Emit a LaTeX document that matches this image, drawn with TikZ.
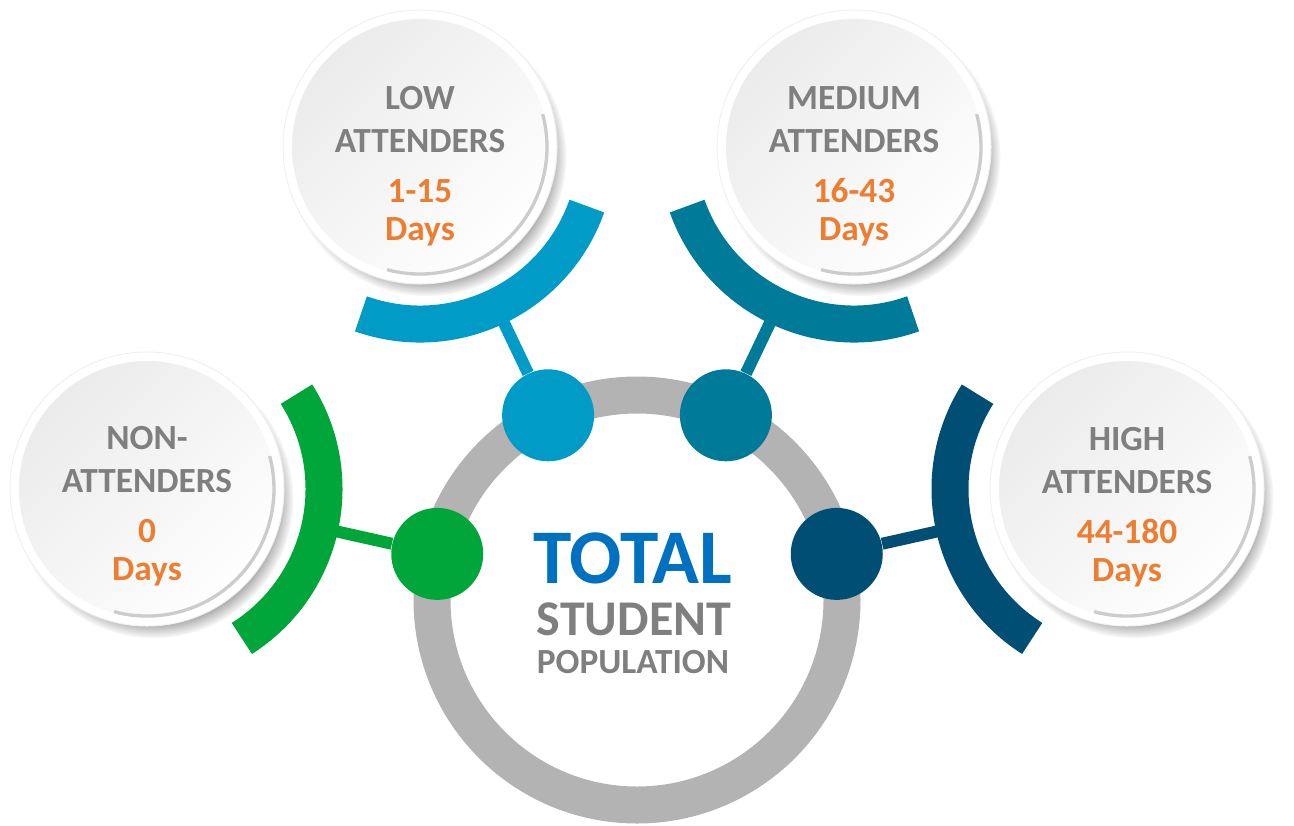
\documentclass[tikz,border=0pt]{standalone}
\usepackage{fontspec}
\setmainfont{Carlito}
\usetikzlibrary{calc,shadows,positioning}

\definecolor{ringgray}{RGB}{179,179,179}
\definecolor{txtgray}{RGB}{127,127,127}
\definecolor{dayorange}{RGB}{237,125,49}
\definecolor{totblue}{RGB}{0,112,192}
\definecolor{nongreen}{RGB}{0,166,57}
\definecolor{lowblue}{RGB}{0,155,198}
\definecolor{medblue}{RGB}{0,122,153}
\definecolor{highblue}{RGB}{0,78,115}

\tikzset{every picture/.style={line width=0.75pt}}

\begin{document}
\begin{tikzpicture}[x=0.75pt,y=0.75pt,yscale=-1,xscale=1,
  ring/.style={circle, draw=ringgray, line width=27.75pt, minimum size=307.5pt, inner sep=0pt},
  dot/.style={circle, fill, minimum size=69pt, inner sep=0pt},
  link/.style={line width=9pt},
  band/.style={line width=27.75pt},
  bubble/.style={circle, minimum size=205.5pt, inner sep=0pt, fill=white, draw=gray!12,
    circular drop shadow={shadow xshift=5pt, shadow yshift=-7pt, shadow scale=1.02, fill=black!45},
    path picture={
      \shade[top color=gray!16, bottom color=white, shading angle=45]
        (path picture bounding box.center) circle[radius=128];
      \draw[gray!40, line width=2.5pt]
        ($(path picture bounding box.center)+(-105:127)$) arc[start angle=-105, end angle=15, radius=127];
    }},
  bubtext/.style={align=center, inner sep=0pt, text=txtgray, font=\bfseries\fontsize{26.5}{32}\selectfont},
  bigtext/.style={anchor=base, inner sep=0pt, font=\bfseries}
]
\useasboundingbox (0,0) rectangle (1294,825);

%Shape: Ring
\node[ring] (pop) at (637,600) {};

%Shape: Circles on ring
\node[dot, nongreen] (ndot) at ($(pop)+(193:205)$) {};
\node[dot, lowblue] (ldot) at ($(pop)+(244.3:205)$) {};
\node[dot, medblue] (mdot) at ($(pop)+(295.7:205)$) {};
\node[dot, highblue] (hdot) at ($(pop)+(347:205)$) {};

%Shape: Bubbles
\node[bubble] (nonb) at (147,489) {};
\node[bubble] (lowb) at (420,147) {};
\node[bubble] (medb) at (854,147) {};
\node[bubble] (highb) at (1127,489) {};

%Straight Lines
\draw[link, nongreen] (ndot) -- ($(nonb)!140pt!(ndot)$);
\draw[link, lowblue] (ldot) -- ($(lowb)!140pt!(ldot)$);
\draw[link, medblue] (mdot) -- ($(medb)!140pt!(mdot)$);
\draw[link, highblue] (hdot) -- ($(highb)!140pt!(hdot)$);

%Shape: Arcs
\draw[band, nongreen] ($(nonb)+(-32.4:177)$) arc[start angle=-32.4, end angle=57.6, radius=177];
\draw[band, lowblue] ($(lowb)+(19.5:177)$) arc[start angle=19.5, end angle=109.5, radius=177];
\draw[band, medblue] ($(medb)+(70.5:177)$) arc[start angle=70.5, end angle=160.5, radius=177];
\draw[band, highblue] ($(highb)+(122.4:177)$) arc[start angle=122.4, end angle=212.4, radius=177];

%Text Nodes
\node[bubtext] (nont) at ($(nonb)+(0,17)$) {NON-\\ATTENDERS\\[6pt]\textcolor{dayorange}{0}\\[-4pt]\textcolor{dayorange}{Days}};
\node[bubtext] (lowt) at ($(lowb)+(0,19)$) {LOW\\ATTENDERS\\[6pt]\textcolor{dayorange}{1-15}\\[-4pt]\textcolor{dayorange}{Days}};
\node[bubtext] (medt) at ($(medb)+(0,19)$) {MEDIUM\\ATTENDERS\\[6pt]\textcolor{dayorange}{16-43}\\[-4pt]\textcolor{dayorange}{Days}};
\node[bubtext] (hight) at ($(highb)+(0,18)$) {HIGH\\ATTENDERS\\[6pt]\textcolor{dayorange}{44-180}\\[-4pt]\textcolor{dayorange}{Days}};

\node[bigtext, text=totblue, font=\bfseries\fontsize{58}{60}\selectfont] (total) at (633,583) {TOTAL};
\node[bigtext, text=txtgray, font=\bfseries\fontsize{37.5}{40}\selectfont] (student) at (634,635) {STUDENT};
\node[bigtext, text=txtgray, font=\bfseries\fontsize{26.5}{28}\selectfont] (popl) at (633,673) {POPULATION};

\end{tikzpicture}
\end{document}
